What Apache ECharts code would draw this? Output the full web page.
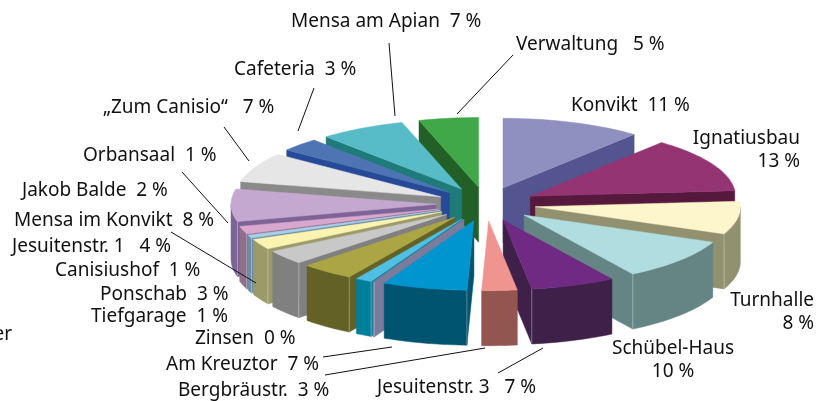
<!DOCTYPE html>
<html>
<head>
<meta charset="utf-8">
<style>
  html, body { margin: 0; padding: 0; background: #fff; }
  #chart { width: 816px; height: 401px; }
</style>
</head>
<body>
<div id="chart"></div>
<script src="https://cdn.jsdelivr.net/npm/echarts@6/dist/echarts.min.js"></script>
<script>
// printed labels, clockwise from 12 o'clock
const categories = ['Konvikt', 'Ignatiusbau', 'Turnhalle', 'Schübel-Haus', 'Jesuitenstr. 3', 'Bergbräustr.', 'Am Kreuztor', 'Zinsen', 'Tiefgarage', 'Jesuitenstr. 1', 'Ponschab', 'Canisiushof', 'Orbansaal', 'Jakob Balde', 'Mensa im Konvikt', '„Zum Canisio“', 'Cafeteria', 'Mensa am Apian', 'Verwaltung']
const percents = [11, 13, 8, 10, 7, 3, 7, 0, 1, 4, 3, 1, 1, 2, 8, 7, 3, 7, 5]
const shares = [11.05, 12.7, 7.64, 9.72, 6.67, 2.78, 6.67, 0.1, 1.3, 4.2, 3.3, 2.4, 0.7, 1.8, 7.5, 6.9, 3.1, 6.8, 4.7]
const topColors = ['#9090c0', '#943472', '#fdf6cd', '#b0dde0', '#702a84', '#f09490', '#0095cf', '#7b7b9b', '#4fc0e4', '#aba643', '#c8c8c8', '#fbf4b0', '#a8cfe8', '#d8a8cf', '#c5a8cf', '#e6e6e6', '#4f74b4', '#57bcc8', '#40a848']
const sideColors = ['#545490', '#56193d', '#919170', '#658484', '#3e2049', '#925550', '#005470', '#7b7b9b', '#007f9c', '#636125', '#808080', '#9b9a68', '#6e8ea8', '#8f6f8c', '#7e6496', '#8a8a8a', '#264a98', '#1f7a7a', '#226028']

// pie geometry
const cx = 486
const cy = 204
const rx = 205
const tilt = 0.34
const depth = 55
const explode = 50

// text placement: [left/center/right x, middle y, align], same order as categories
const labelLayout = [
  [571, 106, 'left'], [800, 150, 'right'], [814, 312, 'right'], [673, 360, 'center'],
  [377, 388, 'left'], [178, 391, 'left'], [166, 365, 'left'], [195, 339, 'left'],
  [91, 317, 'left'], [12, 247, 'left'], [100, 295, 'left'], [55, 271, 'left'],
  [83, 156, 'left'], [22, 191, 'left'], [14, 221, 'left'], [103, 108, 'left'],
  [234, 70, 'left'], [291, 22, 'left'], [516, 45, 'left']
]
const twoLine = ['Ignatiusbau', 'Turnhalle', 'Schübel-Haus']
const wideGap = ['Jesuitenstr. 3', 'Jesuitenstr. 1', '„Zum Canisio“', 'Verwaltung']
const leaderLines = [
  [389, 43, 395, 116], [513, 55, 457, 114], [314, 88, 298, 131], [224, 127, 249, 161],
  [182, 172, 228, 223], [171, 232, 256, 283], [323, 357, 392, 347], [325, 375, 485, 348],
  [498, 373, 543, 348]
]

const total = shares.reduce((a, b) => a + b, 0)
const sliceAngles = []
let acc = 0
shares.forEach(v => {
  const start = acc / total * 360
  acc += v
  sliceAngles.push([start, acc / total * 360])
})

const rad = d => d * Math.PI / 180

// 画一个扇形：后面的面先画，顶面最后
function renderSlice (params, api) {
  const i = api.value(0)
  const [a0, a1] = sliceAngles[i]
  const mid = rad((a0 + a1) / 2)
  const ax = cx + explode * Math.sin(mid)
  const ay = cy - explode * tilt * Math.cos(mid)
  const rim = a => [ax + rx * Math.sin(rad(a)), ay - rx * tilt * Math.cos(rad(a))]
  const down = p => [p[0], p[1] + depth]
  const arc = (from, to) => {
    const pts = []
    const n = Math.max(2, Math.ceil((to - from) / 2))
    for (let k = 0; k <= n; k++) pts.push(rim(from + (to - from) * k / n))
    return pts
  }
  const poly = (points, fill) => ({
    type: 'polygon',
    shape: { points },
    style: { fill, stroke: fill, lineWidth: 0.5 }
  })
  const corner = p => ({
    type: 'line',
    shape: { x1: p[0], y1: p[1], x2: p[0], y2: p[1] + depth },
    style: { stroke: 'rgba(255,255,255,0.45)', lineWidth: 0.7 }
  })
  const children = []
  const apex = [ax, ay]
  const wallFrom = Math.max(a0, 90)
  const wallTo = Math.min(a1, 270)
  if (a0 > 180) {
    const p = rim(a0)
    children.push(poly([apex, p, down(p), down(apex)], sideColors[i]))
  }
  if (a1 < 180) {
    const p = rim(a1)
    children.push(poly([apex, p, down(p), down(apex)], sideColors[i]))
  }
  if (wallTo > wallFrom) {
    const edge = arc(wallFrom, wallTo)
    children.push(poly(edge.concat(edge.map(down).reverse()), sideColors[i]))
    if (a0 > 180 && a0 < 270) children.push(corner(rim(a0)))
    if (a1 < 180 && a1 > 90) children.push(corner(rim(a1)))
  }
  children.push(poly([apex].concat(arc(a0, a1)), topColors[i]))
  return { type: 'group', children }
}

// back slices first so the front ones cover them
const drawOrder = categories
  .map((c, i) => i)
  .sort((p, q) => {
    const mp = rad((sliceAngles[p][0] + sliceAngles[p][1]) / 2)
    const mq = rad((sliceAngles[q][0] + sliceAngles[q][1]) / 2)
    return Math.cos(mq) - Math.cos(mp)
  })

const font = '"Noto Sans", sans-serif'
const graphics = []
categories.forEach((name, i) => {
  const pct = percents[i] + ' %'
  const gap = wideGap.includes(name) ? '   ' : '  '
  graphics.push({
    type: 'text',
    z: 100,
    x: labelLayout[i][0],
    y: labelLayout[i][1],
    style: {
      text: twoLine.includes(name) ? name + '\n' + pct : name + gap + pct,
      font: '19px ' + font,
      fill: '#111',
      align: labelLayout[i][2],
      verticalAlign: 'middle',
      lineHeight: 23
    }
  })
})
graphics.push({
  type: 'text',
  z: 100,
  x: 12,
  y: 335,
  style: { text: 'er', font: '19px ' + font, fill: '#111', align: 'right', verticalAlign: 'middle' }
})
leaderLines.forEach(l => {
  graphics.push({
    type: 'line',
    z: 100,
    shape: { x1: l[0], y1: l[1], x2: l[2], y2: l[3] },
    style: { stroke: '#111', lineWidth: 1 }
  })
})

const chart = echarts.init(document.getElementById('chart'), null, { renderer: 'canvas' })
chart.setOption({
  animation: false,
  backgroundColor: '#fff',
  series: [{
    type: 'custom',
    coordinateSystem: 'none',
    renderItem: renderSlice,
    data: drawOrder.map(i => [i, shares[i]])
  }],
  graphic: graphics
})
</script>
</body>
</html>
